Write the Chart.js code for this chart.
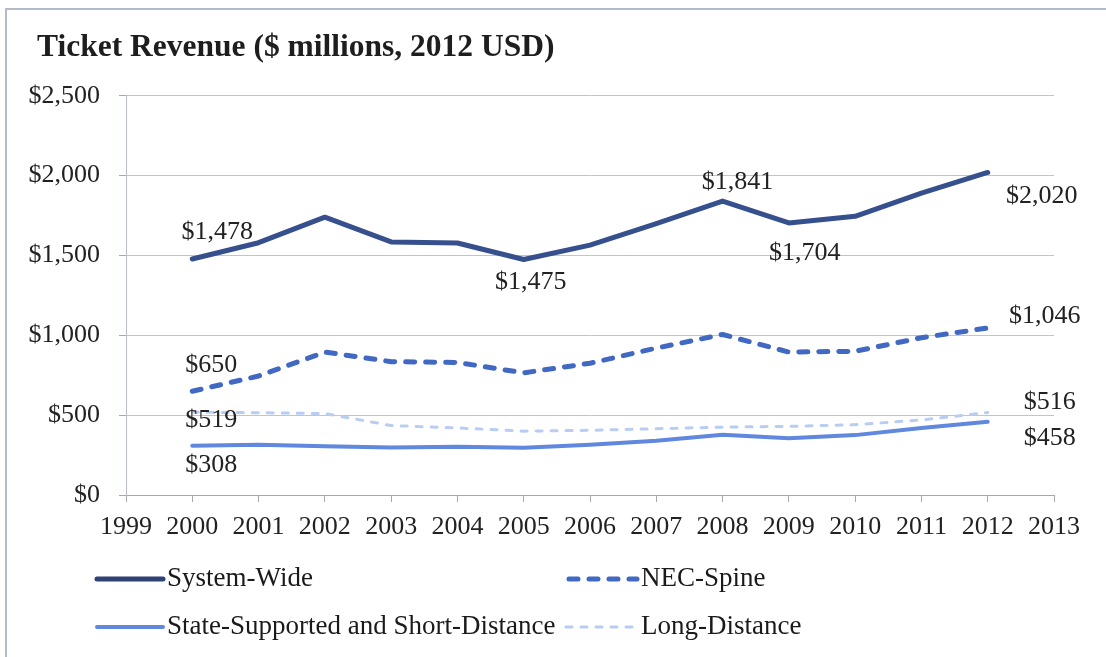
<!DOCTYPE html>
<html>
<head>
<meta charset="utf-8">
<script src="https://cdn.jsdelivr.net/npm/chart.js@4.4.0/dist/chart.umd.min.js"></script>
<style>
  html, body { margin: 0; padding: 0; background: #ffffff; overflow: hidden; }
  #frame { position: absolute; left: 5px; top: 8px; width: 1200px; height: 700px;
           border: 2px solid #b3bccd; box-sizing: border-box; }
  #wrap { position: absolute; left: 0; top: 0; width: 1106px; height: 657px; }
</style>
</head>
<body>
<div id="frame"></div>
<div id="wrap"><canvas id="c" width="1106" height="657"></canvas></div>
<script>
// ---- Data ----
const years = [2000, 2001, 2002, 2003, 2004, 2005, 2006, 2007, 2008, 2009, 2010, 2011, 2012];
const systemWide     = [1478, 1580, 1740, 1585, 1578, 1475, 1565, 1700, 1841, 1704, 1745, 1890, 2020];
const necSpine       = [650, 745, 895, 835, 830, 765, 825, 920, 1005, 895, 900, 985, 1046];
const stateSupported = [308, 315, 305, 298, 302, 296, 315, 340, 378, 355, 375, 420, 458];
const longDistance   = [519, 515, 510, 435, 420, 400, 405, 415, 425, 430, 440, 470, 516];
const seriesNames = ['System-Wide', 'NEC-Spine', 'State-Supported and Short-Distance', 'Long-Distance'];
const yTicks = [0, 500, 1000, 1500, 2000, 2500];
const xMin = 1999, xMax = 2013;
const titleText = 'Ticket Revenue ($ millions, 2012 USD)';

const money = v => '$' + Number(v).toLocaleString('en-US');
const pts = arr => arr.map((v, i) => ({ x: years[i], y: v }));

Chart.defaults.font.family = "'Liberation Serif', 'Times New Roman', serif";
Chart.defaults.color = '#222222';

// move the title block to its left offset
const titleOffset = {
  id: 'titleOffset',
  afterLayout(chart, args, opts) {
    if (chart.titleBlock) chart.titleBlock.left = opts.left;
  }
};

// data labels drawn next to selected points
const pointLabels = {
  id: 'pointLabels',
  afterDatasetsDraw(chart, args, opts) {
    const ctx = chart.ctx;
    ctx.save();
    ctx.font = "26px 'Liberation Serif', serif";
    ctx.fillStyle = '#222222';
    ctx.textAlign = 'center';
    ctx.textBaseline = 'middle';
    opts.items.forEach(it => {
      const meta = chart.getDatasetMeta(it.ds);
      const el = meta.data[it.index];
      const val = chart.data.datasets[it.ds].data[it.index].y;
      ctx.fillText(money(val), el.x + it.dx, el.y + it.dy);
    });
    ctx.restore();
  }
};

// two-column legend below the chart
const gridLegend = {
  id: 'gridLegend',
  afterDraw(chart, args, opts) {
    const ctx = chart.ctx;
    ctx.save();
    ctx.font = "27px 'Liberation Serif', serif";
    ctx.textBaseline = 'middle';
    ctx.textAlign = 'left';
    opts.items.forEach(it => {
      const ds = chart.data.datasets[it.ds];
      ctx.beginPath();
      ctx.strokeStyle = it.color || ds.borderColor;
      ctx.lineWidth = ds.borderWidth;
      ctx.lineCap = 'round';
      ctx.setLineDash(ds.borderDash || []);
      ctx.moveTo(it.x, it.y);
      ctx.lineTo(it.x + it.len, it.y);
      ctx.stroke();
      ctx.setLineDash([]);
      ctx.fillStyle = '#1a1a1a';
      ctx.fillText(ds.label, it.x + it.len + 4, it.y);
    });
    ctx.restore();
  }
};

new Chart(document.getElementById('c'), {
  type: 'line',
  data: {
    datasets: [
      { label: seriesNames[0], data: pts(systemWide), borderColor: '#36508e', borderWidth: 5, borderCapStyle: 'round', borderJoinStyle: 'round' },
      { label: seriesNames[1], data: pts(necSpine), borderColor: '#4168c2', borderWidth: 5, borderDash: [9, 11], borderCapStyle: 'round', borderJoinStyle: 'round' },
      { label: seriesNames[2], data: pts(stateSupported), borderColor: '#5f88de', borderWidth: 4, borderCapStyle: 'round', borderJoinStyle: 'round' },
      { label: seriesNames[3], data: pts(longDistance), borderColor: '#b9cdf3', borderWidth: 3, borderDash: [6, 9], borderCapStyle: 'round', borderJoinStyle: 'round' }
    ]
  },
  options: {
    responsive: false,
    animation: false,
    events: [],
    elements: { point: { radius: 0 }, line: { tension: 0, fill: false } },
    layout: { padding: { left: 0, right: 52, top: 0, bottom: 102 } },
    scales: {
      x: {
        type: 'linear', min: xMin, max: xMax,
        afterBuildTicks(scale) {
          const t = [];
          for (let y = xMin; y <= xMax; y++) t.push({ value: y });
          scale.ticks = t;
        },
        afterFit(scale) { scale.height = 60; },
        ticks: { callback: v => String(v), font: { size: 26 }, color: '#222222', padding: 10, maxRotation: 0, autoSkip: false },
        grid: { drawOnChartArea: false, drawTicks: true, tickLength: 7, tickColor: '#a8a8a8' },
        border: { display: true, color: '#a8a8a8', width: 1 }
      },
      y: {
        min: 0, max: 2500,
        afterBuildTicks(scale) { scale.ticks = yTicks.map(v => ({ value: v })); },
        afterFit(scale) { scale.width = 126; },
        ticks: { callback: v => money(v), font: { size: 26 }, color: '#222222', padding: 19 },
        grid: { color: '#c4c4c4', lineWidth: 1, drawTicks: true, tickLength: 7, tickColor: '#a8a8a8' },
        border: { display: true, color: '#b8bfcc', width: 1 }
      }
    },
    plugins: {
      legend: { display: false },
      tooltip: { enabled: false },
      title: {
        display: true, text: titleText, align: 'start', color: '#1e1e1e',
        font: { size: 31.5, weight: 'bold' }, padding: { top: 29, bottom: 29 }
      },
      titleOffset: { left: 37 },
      pointLabels: {
        items: [
          { ds: 0, index: 0, dx: 25, dy: -27 },
          { ds: 0, index: 5, dx: 7, dy: 23 },
          { ds: 0, index: 8, dx: 15, dy: -19 },
          { ds: 0, index: 9, dx: 16, dy: 30 },
          { ds: 0, index: 12, dx: 54, dy: 24 },
          { ds: 1, index: 0, dx: 19, dy: -26 },
          { ds: 1, index: 12, dx: 57, dy: -12 },
          { ds: 3, index: 0, dx: 19, dy: 8 },
          { ds: 2, index: 0, dx: 19, dy: 19 },
          { ds: 3, index: 12, dx: 62, dy: -10 },
          { ds: 2, index: 12, dx: 62, dy: 16 }
        ]
      },
      gridLegend: {
        items: [
          { ds: 0, x: 97, y: 579, len: 66, color: '#2f4275' },
          { ds: 1, x: 569, y: 579, len: 68 },
          { ds: 2, x: 97, y: 627, len: 66 },
          { ds: 3, x: 566, y: 627, len: 71 }
        ]
      }
    }
  },
  plugins: [titleOffset, pointLabels, gridLegend]
});
</script>
</body>
</html>
